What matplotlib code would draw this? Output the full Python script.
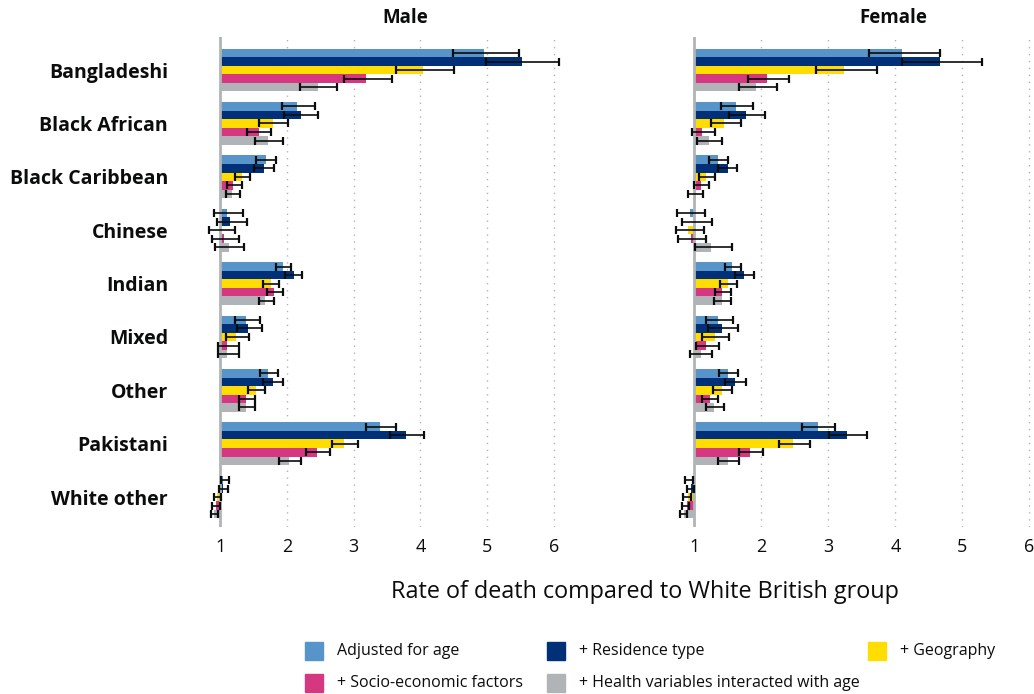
import matplotlib
matplotlib.use("Agg")
import matplotlib.pyplot as plt
from matplotlib.patches import Rectangle
import numpy as np

plt.rcParams["font.family"] = ["Open Sans", "DejaVu Sans"]

W, H = 1034, 694

groups = ["Bangladeshi", "Black African", "Black Caribbean", "Chinese", "Indian",
          "Mixed", "Other", "Pakistani", "White other"]

series = ["Adjusted for age", "+ Residence type", "+ Geography",
          "+ Socio-economic factors", "+ Health variables interacted with age"]
colours = ["#5694ca", "#003078", "#ffdd00", "#d53880", "#b1b4b6"]

# Male: rate ratios with lower / upper 95% interval
male_age = [4.96, 2.16, 1.69, 1.11, 1.95, 1.39, 1.72, 3.40, 1.05]
male_age_lo = [4.49, 1.93, 1.54, 0.91, 1.84, 1.22, 1.60, 3.19, 1.01]
male_age_hi = [5.48, 2.42, 1.84, 1.34, 2.07, 1.60, 1.87, 3.63, 1.13]
male_res = [5.52, 2.21, 1.66, 1.15, 2.11, 1.42, 1.79, 3.79, 1.04]
male_res_lo = [4.99, 1.96, 1.51, 0.95, 1.97, 1.25, 1.65, 3.54, 0.99]
male_res_hi = [6.08, 2.47, 1.81, 1.40, 2.23, 1.63, 1.94, 4.05, 1.12]
male_geo = [4.04, 1.79, 1.33, 0.99, 1.77, 1.24, 1.54, 2.86, 0.96]
male_geo_lo = [3.63, 1.59, 1.22, 0.83, 1.65, 1.09, 1.42, 2.67, 0.91]
male_geo_hi = [4.51, 2.02, 1.45, 1.23, 1.89, 1.44, 1.68, 3.07, 1.02]
male_ses = [3.19, 1.58, 1.20, 1.06, 1.81, 1.10, 1.39, 2.45, 0.94]
male_ses_lo = [2.86, 1.40, 1.11, 0.88, 1.70, 0.97, 1.28, 2.28, 0.88]
male_ses_hi = [3.57, 1.77, 1.33, 1.28, 1.94, 1.28, 1.52, 2.64, 1.00]
male_hlth = [2.46, 1.72, 1.18, 1.13, 1.68, 1.10, 1.39, 2.04, 0.91]
male_hlth_lo = [2.19, 1.53, 1.09, 0.93, 1.58, 0.97, 1.28, 1.89, 0.86]
male_hlth_hi = [2.75, 1.94, 1.30, 1.36, 1.81, 1.28, 1.52, 2.21, 0.97]

# Female
female_age = [4.10, 1.62, 1.35, 0.93, 1.57, 1.35, 1.50, 2.84, 0.96]
female_age_lo = [3.61, 1.40, 1.22, 0.74, 1.46, 1.17, 1.37, 2.60, 0.86]
female_age_hi = [4.66, 1.88, 1.50, 1.16, 1.69, 1.58, 1.65, 3.10, 0.98]
female_res = [4.67, 1.77, 1.50, 1.01, 1.74, 1.41, 1.61, 3.28, 0.95]
female_res_lo = [4.10, 1.52, 1.35, 0.81, 1.61, 1.21, 1.46, 3.01, 0.89]
female_res_hi = [5.30, 2.05, 1.64, 1.26, 1.89, 1.65, 1.77, 3.58, 1.00]
female_geo = [3.23, 1.45, 1.18, 0.91, 1.51, 1.31, 1.42, 2.47, 0.90]
female_geo_lo = [2.82, 1.25, 1.07, 0.72, 1.38, 1.12, 1.28, 2.26, 0.83]
female_geo_hi = [3.73, 1.69, 1.31, 1.15, 1.63, 1.52, 1.57, 2.72, 0.95]
female_ses = [2.09, 1.12, 1.10, 0.95, 1.42, 1.18, 1.23, 1.83, 0.89]
female_ses_lo = [1.80, 0.96, 0.99, 0.75, 1.31, 1.03, 1.12, 1.66, 0.81]
female_ses_hi = [2.42, 1.31, 1.22, 1.18, 1.55, 1.37, 1.36, 2.03, 0.92]
female_hlth = [1.92, 1.22, 1.02, 1.25, 1.42, 1.10, 1.29, 1.50, 0.85]
female_hlth_lo = [1.67, 1.04, 0.91, 1.01, 1.30, 0.94, 1.17, 1.36, 0.78]
female_hlth_hi = [2.24, 1.42, 1.13, 1.57, 1.55, 1.27, 1.44, 1.66, 0.89]

male = [(male_age, male_age_lo, male_age_hi),
        (male_res, male_res_lo, male_res_hi),
        (male_geo, male_geo_lo, male_geo_hi),
        (male_ses, male_ses_lo, male_ses_hi),
        (male_hlth, male_hlth_lo, male_hlth_hi)]
female = [(female_age, female_age_lo, female_age_hi),
          (female_res, female_res_lo, female_res_hi),
          (female_geo, female_geo_lo, female_geo_hi),
          (female_ses, female_ses_lo, female_ses_hi),
          (female_hlth, female_hlth_lo, female_hlth_hi)]

BAR_H = 0.16
INK = "#0b0c0c"


def px(x0, y0, x1, y1):
    """Pixel box (top-left origin) -> figure-fraction rect."""
    return [x0 / W, 1 - y1 / H, (x1 - x0) / W, (y1 - y0) / H]


def panel(ax, data, xmax, show_labels):
    y = np.arange(len(groups))
    for k, (vals, lo, hi) in enumerate(data):
        vals = np.array(vals)
        pos = y + (k - 2) * BAR_H
        ax.barh(pos, vals - 1, left=1, height=BAR_H, color=colours[k], zorder=2)
        err = [vals - np.array(lo), np.array(hi) - vals]
        ax.errorbar(vals, pos, xerr=err, fmt="none", ecolor=INK, elinewidth=1.2,
                    capsize=2.6, capthick=1.6, zorder=4)
    ax.axvline(1, color="#b1b4b6", lw=2, zorder=3)
    for g in range(2, 7):
        ax.axvline(g, color="#b1b4b6", lw=1, ls=(0, (1, 4)), zorder=1)
    ax.set_xlim(0.7, xmax)
    ax.set_ylim(len(groups) - 0.44, -0.62)
    ax.set_xticks(range(1, 7))
    ax.tick_params(axis="x", length=0, pad=8, labelsize=13, labelcolor=INK)
    ax.set_yticks(y)
    if show_labels:
        ax.set_yticklabels(groups, fontsize=14, fontweight="bold", color=INK)
        ax.tick_params(axis="y", length=0, pad=23)
    else:
        ax.tick_params(axis="y", length=0, labelleft=False)
    for s in ax.spines.values():
        s.set_visible(False)


fig = plt.figure(figsize=(W / 100, H / 100), dpi=100)
ax_m = fig.add_axes(px(200, 37, 594, 527))
ax_f = fig.add_axes(px(674.2, 37, 1032.7, 527))
panel(ax_m, male, 6.6, True)
panel(ax_f, female, 6.05, False)

fig.text(405 / W, 1 - 18 / H, "Male", ha="center", va="center",
         fontsize=13.5, fontweight="bold", color=INK)
fig.text(893 / W, 1 - 18 / H, "Female", ha="center", va="center",
         fontsize=13.5, fontweight="bold", color=INK)
fig.text(645 / W, 1 - 592 / H, "Rate of death compared to White British group",
         ha="center", va="center", fontsize=16.8, color=INK)

# legend laid out as a 3-column grid
slots = [(305, 651), (547, 651), (868, 651), (305, 683), (547, 683)]
for (lx, ly), name, col in zip(slots, series, colours):
    fig.add_artist(Rectangle((lx / W, 1 - (ly + 9) / H), 18 / W, 18 / H,
                             transform=fig.transFigure, color=col))
    fig.text((lx + 32) / W, 1 - ly / H, name, ha="left", va="center",
             fontsize=11.5, color=INK)

fig.savefig("out.png", dpi=100)
